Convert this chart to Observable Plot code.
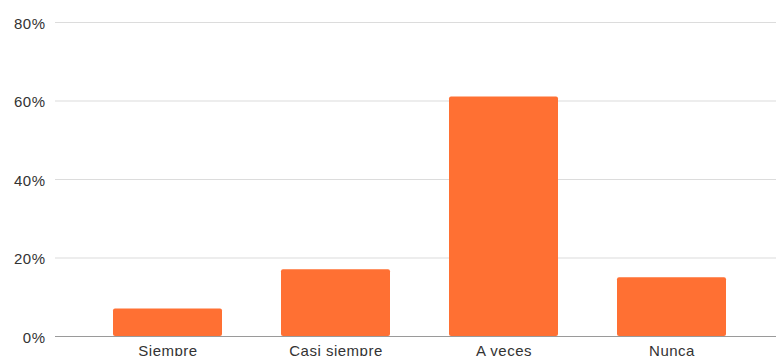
<!DOCTYPE html>
<html>
<head>
<meta charset="utf-8">
<script src="https://cdn.jsdelivr.net/npm/d3@7"></script>
<script src="https://cdn.jsdelivr.net/npm/@observablehq/plot@0.6"></script>
<style>
  html, body { margin: 0; padding: 0; background: #fff; }
  #chart svg { display: block; }
  #chart svg [aria-label$="tick label"] text { letter-spacing: 0.5px; }
</style>
</head>
<body>
<div id="chart"></div>
<script>
// Response categories and their share of answers (percent)
const categories = ["Siempre", "Casi siempre", "A veces", "Nunca"];
const shares = [7, 17, 61, 15];
const yTicks = [0, 20, 40, 60, 80];

const rows = categories.map((c, i) => ({ category: c, share: shares[i] }));

const chart = Plot.plot({
  width: 776,
  height: 356,
  marginTop: 22,
  marginBottom: 20,
  marginLeft: 55,
  marginRight: 0,
  style: { fontFamily: "Liberation Sans, Arial, sans-serif", fontSize: "15px", color: "#333" },
  x: { domain: categories, range: [83.5, 755.5], paddingInner: 0.35, paddingOuter: 0.175, label: null },
  y: { domain: [0, 80], label: null },
  marks: [
    Plot.ruleY(yTicks.filter(d => d > 0), { stroke: "#dcdcdc", strokeWidth: 1.2 }),
    Plot.barY(rows, { x: "category", y: "share", fill: "#ff7033", rx: 2 }),
    Plot.ruleY([0], { stroke: "#9a9a9a", strokeWidth: 1.2 }),
    Plot.axisY({ ticks: yTicks, tickFormat: d => d + "%", tickSize: 0, tickPadding: 10, fontSize: 15, dy: 1.5 }),
    Plot.axisX({ tickSize: 0, tickPadding: 9, fontSize: 15 })
  ]
});
document.getElementById("chart").append(chart);
</script>
</body>
</html>
